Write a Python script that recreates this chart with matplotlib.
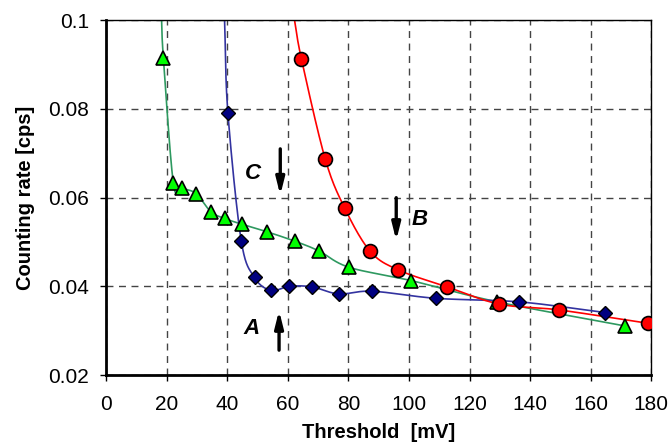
import numpy as np
import matplotlib
matplotlib.use("Agg")
import matplotlib.pyplot as plt

plt.rcParams['font.family'] = ['Liberation Sans', 'DejaVu Sans']

# series C (green triangles)
c_x = [18.9, 22.2, 25.1, 29.7, 34.6, 39.1, 44.8, 53.1, 62.2, 70.2, 80.2, 100.7, 129.2, 171.2]
c_y = [0.0914, 0.0632, 0.0621, 0.0609, 0.0568, 0.0553, 0.0540, 0.0523, 0.0502, 0.0480,
       0.0443, 0.0413, 0.0365, 0.0311]
c_top = (18.3, 0.1)

# series A (blue diamonds)
a_x = [40.2, 44.6, 49.0, 54.4, 60.5, 67.9, 76.8, 87.9, 109.0, 136.5, 164.8]
a_y = [0.0791, 0.0503, 0.0420, 0.0391, 0.0400, 0.0399, 0.0383, 0.0389, 0.0373, 0.0365, 0.0341]
a_top = (39.1, 0.1)

# series B (red circles)
b_x = [64.5, 72.3, 78.8, 87.2, 96.5, 112.5, 129.9, 149.4, 178.8]
b_y = [0.0912, 0.0688, 0.0576, 0.0479, 0.0437, 0.0399, 0.0360, 0.0347, 0.0317]
b_top = (62.2, 0.1)

x_ticks = [0, 20, 40, 60, 80, 100, 120, 140, 160, 180]
y_ticks = [0.02, 0.04, 0.06, 0.08, 0.1]
y_labels = ['0.02', '0.04', '0.06', '0.08', '0.1']


def smooth(xs, ys, n=20):
    # catmull-rom curve through the points, like the spreadsheet "smoothed line"
    p = np.column_stack([xs, ys]).astype(float)
    p = np.vstack([2 * p[0] - p[1], p, 2 * p[-1] - p[-2]])
    out = []
    t = np.linspace(0, 1, n, endpoint=False)[:, None]
    for i in range(1, len(p) - 2):
        p0, p1, p2, p3 = p[i - 1], p[i], p[i + 1], p[i + 2]
        seg = 0.5 * ((2 * p1) + (-p0 + p2) * t + (2 * p0 - 5 * p1 + 4 * p2 - p3) * t ** 2
                     + (-p0 + 3 * p1 - 3 * p2 + p3) * t ** 3)
        out.append(seg)
    out.append(p[-2][None, :])
    out = np.vstack(out)
    return out[:, 0], out[:, 1]


fig = plt.figure(figsize=(6.72, 4.45), dpi=100)
ax = fig.add_axes([0.158, 0.157, 0.811, 0.798])

for xs, ys, top, lc in [(c_x, c_y, c_top, '#2e9960'), (a_x, a_y, a_top, '#3333a0'),
                        (b_x, b_y, b_top, '#ff0000')]:
    lx, ly = smooth([top[0]] + xs, [top[1]] + ys)
    ax.plot(lx, ly, color=lc, lw=1.2, zorder=2)

ax.plot(c_x, c_y, ls='none', marker='^', ms=10, mfc='#00ff00', mec='black', mew=1.2, zorder=3)
ax.plot(a_x, a_y, ls='none', marker='D', ms=7, mfc='#000080', mec='black', mew=1.0, zorder=3)
ax.plot(b_x, b_y, ls='none', marker='o', ms=10, mfc='#ff0000', mec='black', mew=1.2, zorder=3)

ax.set_xlim(0, 180)
ax.set_ylim(0.02, 0.1)
ax.set_xticks(x_ticks)
ax.set_yticks(y_ticks)
ax.set_yticklabels(y_labels)
ax.tick_params(direction='out', length=4.5, width=1, labelsize=15, colors='black')
ax.tick_params(axis='y', pad=8)
ax.tick_params(axis='x', pad=10)
ax.grid(True, ls=(0, (5, 4)), color='#444444', lw=1)
ax.set_axisbelow(True)
ax.spines['left'].set_linewidth(2)
ax.spines['bottom'].set_linewidth(2)
ax.spines['top'].set_linewidth(1)
ax.spines['right'].set_linewidth(1)

ax.set_xlabel('Threshold  [mV]', fontsize=14.5, fontweight='bold', labelpad=6)
ax.set_ylabel('Counting rate [cps]', fontsize=14.5, fontweight='bold', labelpad=9)

arrow = dict(arrowstyle='-|>,head_length=1.0,head_width=0.25', color='black', lw=2.4)
ax.annotate('', xy=(57.5, 0.0599), xytext=(57.5, 0.0716), arrowprops=arrow)
ax.annotate('', xy=(57.1, 0.0352), xytext=(57.1, 0.0250), arrowprops=arrow)
ax.annotate('', xy=(95.8, 0.0497), xytext=(95.8, 0.0606), arrowprops=arrow)
ax.text(48.5, 0.0655, 'C', fontsize=16, fontweight='bold', fontstyle='italic', ha='center', va='center')
ax.text(48.1, 0.0306, 'A', fontsize=16, fontweight='bold', fontstyle='italic', ha='center', va='center')
ax.text(103.5, 0.0550, 'B', fontsize=16, fontweight='bold', fontstyle='italic', ha='center', va='center')

fig.savefig('out.png', dpi=100)
